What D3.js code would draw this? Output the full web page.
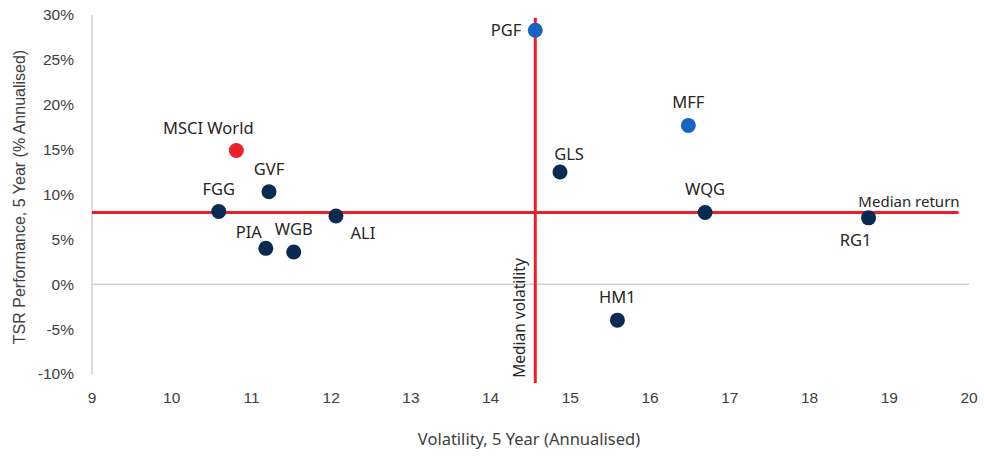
<!DOCTYPE html>
<html>
<head>
<meta charset="utf-8">
<script src="https://cdn.jsdelivr.net/npm/d3@7"></script>
<style>
html,body{margin:0;padding:0;background:#fff;}
svg{display:block;}
</style>
</head>
<body>
<svg id="chart" width="984" height="457"></svg>
<script>
// Data
const names = ["PGF","MFF","MSCI World","GVF","FGG","ALI","PIA","WGB","GLS","WQG","RG1","HM1"];
const volatility = [14.56,16.48,10.81,11.22,10.59,12.06,11.18,11.53,14.87,16.69,18.74,15.59];
const tsr = [28.3,17.7,14.9,10.3,8.1,7.6,4.0,3.6,12.5,8.0,7.4,-4.0];
const groups = ["blue","blue","red","navy","navy","navy","navy","navy","navy","navy","navy","navy"];
const labelPos = ["left","above","aboveleftfar","above","above","belowright","aboveleft","above","aboveright","above","below","above"];
const xTicks = [9,10,11,12,13,14,15,16,17,18,19,20];
const yTicks = [-10,-5,0,5,10,15,20,25,30];
const medianReturn = 8.0;
const medianVolatility = 14.56;

const colors = {blue:"#1763c2", red:"#e8202a", navy:"#0b2a52"};
const svg = d3.select("#chart");
const x = d3.scaleLinear().domain([9,20]).range([92, 969]);
const y = d3.scaleLinear().domain([-10,30]).range([374, 15]);

const tickFont = "'Liberation Sans', Arial, sans-serif";
const labFont = "'Noto Sans', 'Open Sans', sans-serif";

// y axis line
svg.append("line").attr("x1",x(9)).attr("x2",x(9)).attr("y1",y(30)).attr("y2",y(-10))
  .attr("stroke","#d0d0d0").attr("stroke-width",1.5);
// zero line
svg.append("line").attr("x1",x(9)).attr("x2",x(20)).attr("y1",y(0)).attr("y2",y(0))
  .attr("stroke","#d0d0d0").attr("stroke-width",1.5);

// y tick labels
svg.append("g").selectAll("text").data(yTicks).join("text")
  .attr("x",74).attr("y",d=>y(d)).attr("dy","0.35em").attr("text-anchor","end")
  .attr("font-family",tickFont).attr("font-size",15.5).attr("fill","#404040")
  .text(d=>d+"%");
// x tick labels
svg.append("g").selectAll("text").data(xTicks).join("text")
  .attr("x",d=>x(d)).attr("y",403).attr("text-anchor","middle")
  .attr("font-family",tickFont).attr("font-size",15.5).attr("fill","#404040")
  .text(d=>d);

// axis titles
svg.append("text").attr("x",529).attr("y",445).attr("text-anchor","middle")
  .attr("font-family",labFont).attr("font-size",16.5).attr("fill","#404040")
  .text("Volatility, 5 Year (Annualised)");
svg.append("text").attr("transform","translate(25,197) rotate(-90)").attr("text-anchor","middle")
  .attr("font-family",tickFont).attr("font-size",16).attr("fill","#404040")
  .text("TSR Performance, 5 Year (% Annualised)");

// median lines
svg.append("line").attr("x1",x(9)).attr("x2",x(19.87)).attr("y1",y(medianReturn)).attr("y2",y(medianReturn))
  .attr("stroke",colors.red).attr("stroke-width",3);
svg.append("line").attr("x1",x(medianVolatility)).attr("x2",x(medianVolatility)).attr("y1",y(29.7)).attr("y2",y(-11))
  .attr("stroke",colors.red).attr("stroke-width",3);

svg.append("text").attr("x",909).attr("y",207).attr("text-anchor","middle")
  .attr("font-family",labFont).attr("font-size",15).attr("fill","#262626").text("Median return");
svg.append("text").attr("transform",`translate(${x(medianVolatility)-10},318) rotate(-90)`).attr("text-anchor","middle")
  .attr("font-family",labFont).attr("font-size",15.5).attr("fill","#262626").text("Median volatility");

// points
const data = names.map((n,i)=>({n, v:volatility[i], t:tsr[i], g:groups[i], p:labelPos[i]}));
svg.append("g").selectAll("circle").data(data).join("circle")
  .attr("cx",d=>x(d.v)).attr("cy",d=>y(d.t)).attr("r",7.5).attr("fill",d=>colors[d.g]);

const off = {
  left:{dx:-14,dy:6,a:"end"},
  above:{dx:0,dy:-17,a:"middle"},
  aboveleftfar:{dx:-28,dy:-17,a:"middle"},
  aboveright:{dx:9,dy:-12,a:"middle"},
  aboveleft:{dx:-17,dy:-10,a:"middle"},
  belowright:{dx:27,dy:23,a:"middle"},
  below:{dx:-13,dy:28,a:"middle"}
};
svg.append("g").selectAll("text").data(data).join("text")
  .attr("x",d=>x(d.v)+off[d.p].dx).attr("y",d=>y(d.t)+off[d.p].dy)
  .attr("text-anchor",d=>off[d.p].a)
  .attr("font-family",labFont).attr("font-size",16.5).attr("fill","#262626")
  .text(d=>d.n);
</script>
</body>
</html>
